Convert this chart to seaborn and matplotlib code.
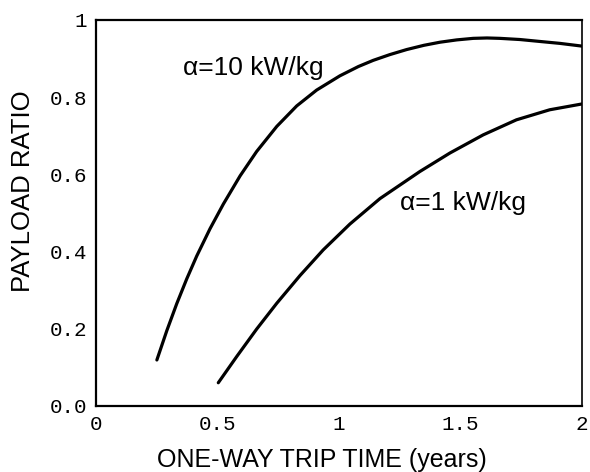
import numpy as np
import pandas as pd
import matplotlib
matplotlib.use("Agg")
import matplotlib.pyplot as plt
import seaborn as sns

# values
t_10 = [0.250, 0.291, 0.332, 0.373, 0.414, 0.469, 0.524, 0.593, 0.661, 0.744, 0.826,
        0.908, 1.004, 1.080, 1.141, 1.210, 1.279, 1.350, 1.416, 1.485, 1.553, 1.610,
        1.663, 1.745, 1.827, 1.910, 2.0]
r_10 = [0.119, 0.195, 0.265, 0.329, 0.388, 0.459, 0.523, 0.596, 0.659, 0.724, 0.777,
        0.818, 0.855, 0.879, 0.895, 0.910, 0.923, 0.934, 0.942, 0.948, 0.952, 0.953,
        0.952, 0.949, 0.944, 0.939, 0.932]
t_1 = [0.503, 0.579, 0.661, 0.744, 0.840, 0.935, 1.045, 1.169, 1.333, 1.457, 1.594,
       1.731, 1.868, 2.0]
r_1 = [0.060, 0.128, 0.199, 0.266, 0.338, 0.404, 0.471, 0.537, 0.607, 0.655, 0.702,
       0.741, 0.767, 0.782]

x_ticks = [0, 0.5, 1, 1.5, 2]
x_ticklabels = ["0", "0.5", "1", "1.5", "2"]
y_ticks = [0, 0.2, 0.4, 0.6, 0.8, 1]
y_ticklabels = ["0.0", "0.2", "0.4", "0.6", "0.8", "1"]

df = pd.concat([
    pd.DataFrame({"t": t_10, "r": r_10, "alpha": "10"}),
    pd.DataFrame({"t": t_1, "r": r_1, "alpha": "1"}),
])

sns.set_style("white")
plt.rcParams["font.family"] = ["Liberation Sans", "DejaVu Sans"]
plt.rcParams["text.color"] = "black"
plt.rcParams["axes.labelcolor"] = "black"
plt.rcParams["xtick.color"] = "black"
plt.rcParams["ytick.color"] = "black"

fig = plt.figure(figsize=(5.9, 4.72), dpi=100)
ax = fig.add_axes([0.163, 0.14, 0.823, 0.818])

sns.lineplot(data=df, x="t", y="r", hue="alpha", palette=["black", "black"],
             linewidth=2.3, legend=False, sort=False, ax=ax)

ax.set_xlim(0, 2)
ax.set_ylim(0, 1)
ax.set_xticks(x_ticks)
ax.set_xticklabels(x_ticklabels, family="Liberation Mono", fontsize=15)
ax.set_yticks(y_ticks)
ax.set_yticklabels(y_ticklabels, family="Liberation Mono", fontsize=15)
ax.tick_params(direction="inout", length=7, width=1.5, colors="black", pad=3)

for s in ax.spines.values():
    s.set_color("black")
    s.set_linewidth(1.6)
ax.spines["right"].set_linewidth(1.2)

ax.set_xlabel("ONE-WAY TRIP TIME (years)", fontsize=18, color="black")
ax.set_ylabel("PAYLOAD RATIO", fontsize=18.5, color="black")
ax.xaxis.set_label_coords(0.465, -0.108)
ax.yaxis.set_label_coords(-0.125, 0.556)

ax.text(0.648, 0.876, "α=10 kW/kg", fontsize=19, ha="center", va="center", color="black")
ax.text(1.51, 0.526, "α=1 kW/kg", fontsize=19, ha="center", va="center", color="black")

fig.savefig("out.png", dpi=100)
